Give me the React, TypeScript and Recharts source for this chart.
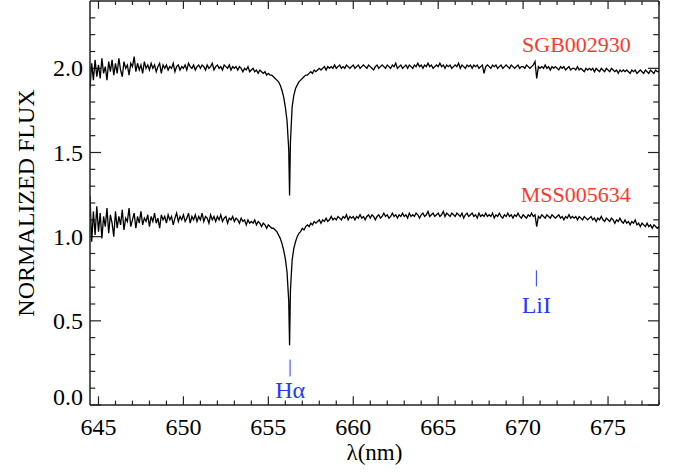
import React from "react";
import { LineChart, Line, XAxis, YAxis, ReferenceLine, ReferenceDot } from "recharts";

// wavelength grid in nm (extra point at the H-alpha core)
const wavelength = [
  644.5, 644.6, 644.7, 644.8, 644.9,
  645.0, 645.1, 645.2, 645.3, 645.4, 645.5, 645.6, 645.7, 645.8, 645.9,
  646.0, 646.1, 646.2, 646.3, 646.4, 646.5, 646.6, 646.7, 646.8, 646.9,
  647.0, 647.1, 647.2, 647.3, 647.4, 647.5, 647.6, 647.7, 647.8, 647.9,
  648.0, 648.1, 648.2, 648.3, 648.4, 648.5, 648.6, 648.7, 648.8, 648.9,
  649.0, 649.1, 649.2, 649.3, 649.4, 649.5, 649.6, 649.7, 649.8, 649.9,
  650.0, 650.1, 650.2, 650.3, 650.4, 650.5, 650.6, 650.7, 650.8, 650.9,
  651.0, 651.1, 651.2, 651.3, 651.4, 651.5, 651.6, 651.7, 651.8, 651.9,
  652.0, 652.1, 652.2, 652.3, 652.4, 652.5, 652.6, 652.7, 652.8, 652.9,
  653.0, 653.1, 653.2, 653.3, 653.4, 653.5, 653.6, 653.7, 653.8, 653.9,
  654.0, 654.1, 654.2, 654.3, 654.4, 654.5, 654.6, 654.7, 654.8, 654.9,
  655.0, 655.1, 655.2, 655.3, 655.4, 655.5, 655.6, 655.7, 655.8, 655.9,
  656.0, 656.1, 656.2, 656.25, 656.3, 656.4, 656.5, 656.6, 656.7, 656.8, 656.9,
  657.0, 657.1, 657.2, 657.3, 657.4, 657.5, 657.6, 657.7, 657.8, 657.9,
  658.0, 658.1, 658.2, 658.3, 658.4, 658.5, 658.6, 658.7, 658.8, 658.9,
  659.0, 659.1, 659.2, 659.3, 659.4, 659.5, 659.6, 659.7, 659.8, 659.9,
  660.0, 660.1, 660.2, 660.3, 660.4, 660.5, 660.6, 660.7, 660.8, 660.9,
  661.0, 661.1, 661.2, 661.3, 661.4, 661.5, 661.6, 661.7, 661.8, 661.9,
  662.0, 662.1, 662.2, 662.3, 662.4, 662.5, 662.6, 662.7, 662.8, 662.9,
  663.0, 663.1, 663.2, 663.3, 663.4, 663.5, 663.6, 663.7, 663.8, 663.9,
  664.0, 664.1, 664.2, 664.3, 664.4, 664.5, 664.6, 664.7, 664.8, 664.9,
  665.0, 665.1, 665.2, 665.3, 665.4, 665.5, 665.6, 665.7, 665.8, 665.9,
  666.0, 666.1, 666.2, 666.3, 666.4, 666.5, 666.6, 666.7, 666.8, 666.9,
  667.0, 667.1, 667.2, 667.3, 667.4, 667.5, 667.6, 667.7, 667.8, 667.9,
  668.0, 668.1, 668.2, 668.3, 668.4, 668.5, 668.6, 668.7, 668.8, 668.9,
  669.0, 669.1, 669.2, 669.3, 669.4, 669.5, 669.6, 669.7, 669.8, 669.9,
  670.0, 670.1, 670.2, 670.3, 670.4, 670.5, 670.6, 670.7, 670.8, 670.9,
  671.0, 671.1, 671.2, 671.3, 671.4, 671.5, 671.6, 671.7, 671.8, 671.9,
  672.0, 672.1, 672.2, 672.3, 672.4, 672.5, 672.6, 672.7, 672.8, 672.9,
  673.0, 673.1, 673.2, 673.3, 673.4, 673.5, 673.6, 673.7, 673.8, 673.9,
  674.0, 674.1, 674.2, 674.3, 674.4, 674.5, 674.6, 674.7, 674.8, 674.9,
  675.0, 675.1, 675.2, 675.3, 675.4, 675.5, 675.6, 675.7, 675.8, 675.9,
  676.0, 676.1, 676.2, 676.3, 676.4, 676.5, 676.6, 676.7, 676.8, 676.9,
  677.0, 677.1, 677.2, 677.3, 677.4, 677.5, 677.6, 677.7, 677.8, 677.9,
  678.0,
];

// SGB002930 (offset by +1)
const fluxSGB = [
  1.88, 2.03, 1.93, 2.05, 1.95,
  2.02, 1.94, 2.06, 1.97, 2.01, 1.93, 2.04, 1.98, 2.05, 1.96,
  2.03, 1.97, 2.06, 1.99, 1.95, 2.04, 2.00, 2.02, 1.96, 2.03,
  2.01, 2.07, 1.98, 2.03, 1.99, 2.02, 1.97, 2.04, 2.00, 2.02,
  1.99, 2.03, 2.00, 2.02, 1.98, 2.01, 2.03, 1.97, 2.02, 2.00,
  2.02, 1.99, 2.01, 2.00, 2.03, 1.98, 2.01, 2.02, 1.99, 2.01,
  2.00, 2.02, 1.99, 2.03, 2.01, 2.00, 2.02, 1.99, 2.01, 2.02,
  2.00, 2.02, 2.01, 1.99, 2.02, 2.00, 2.01, 2.03, 1.99, 2.01,
  2.02, 2.00, 2.01, 1.99, 2.02, 2.01, 2.00, 2.02, 1.99, 2.01,
  2.00, 2.01, 1.99, 2.01, 2.00, 1.98, 2.00, 1.99, 2.01, 1.98,
  1.99, 2.00, 1.98, 1.99, 1.97, 1.99, 1.98, 1.97, 1.98, 1.96,
  1.97, 1.96, 1.96, 1.95, 1.94, 1.93, 1.92, 1.90, 1.87, 1.83,
  1.77, 1.69, 1.52, 1.245, 1.56, 1.77, 1.84, 1.88, 1.90, 1.92, 1.93,
  1.94, 1.95, 1.96, 1.96, 1.97, 1.98, 1.97, 1.99, 1.98, 1.99,
  2.00, 1.99, 2.00, 2.01, 1.99, 2.01, 2.00, 2.01, 2.00, 2.02,
  2.00, 2.01, 2.02, 2.00, 2.01, 2.00, 2.02, 2.01, 2.00, 2.01,
  2.02, 2.00, 2.01, 2.02, 2.00, 2.01, 2.02, 2.01, 2.00, 2.02,
  2.01, 2.00, 1.99, 2.01, 2.02, 2.00, 2.01, 2.02, 2.01, 2.00,
  2.02, 2.01, 2.00, 2.02, 2.01, 2.03, 2.00, 2.01, 2.02, 2.00,
  2.01, 2.02, 2.00, 2.02, 2.01, 2.00, 2.02, 2.01, 2.03, 2.01,
  2.02, 2.00, 2.02, 2.01, 2.03, 2.01, 2.02, 2.00, 2.01, 2.02,
  2.01, 2.03, 2.01, 2.02, 2.00, 2.02, 2.01, 2.02, 2.00, 2.01,
  2.02, 2.01, 2.03, 2.00, 2.02, 2.01, 2.00, 2.02, 2.01, 2.02,
  2.00, 2.02, 2.01, 2.02, 2.00, 2.01, 2.02, 1.97, 2.01, 2.02,
  2.01, 2.00, 2.02, 2.01, 2.02, 2.00, 2.01, 2.02, 2.00, 2.01,
  2.02, 2.01, 2.00, 2.02, 2.01, 2.00, 2.01, 2.02, 2.00, 2.01,
  2.01, 2.00, 2.02, 2.01, 2.00, 2.01, 2.02, 2.04, 1.94, 2.01,
  2.00, 2.01, 2.00, 2.02, 2.00, 2.01, 1.99, 2.01, 2.00, 2.01,
  2.00, 1.99, 2.01, 2.00, 2.01, 1.99, 2.00, 2.01, 1.99, 2.00,
  2.00, 1.99, 2.01, 1.99, 2.00, 1.99, 1.98, 2.00, 1.99, 2.00,
  1.99, 2.00, 1.98, 2.00, 1.99, 1.98, 2.00, 1.99, 1.98, 2.00,
  1.99, 1.98, 2.00, 1.99, 1.98, 1.99, 1.97, 1.99, 1.98, 1.99,
  1.98, 1.99, 1.98, 1.97, 1.99, 1.98, 1.99, 1.97, 1.98, 1.99,
  1.98, 1.97, 1.99, 1.98, 1.97, 1.99, 1.98, 1.97, 1.99, 1.98,
  1.98,
];

// MSS005634
const fluxMSS = [
  1.24, 0.97, 1.15, 1.01, 1.18,
  1.03, 1.14, 0.99, 1.12, 1.06, 1.17, 1.02, 1.13, 1.08, 1.00,
  1.15, 1.05, 1.12, 1.07, 1.16, 1.04, 1.11, 1.09, 1.17, 1.06,
  1.10, 1.14, 1.05, 1.12, 1.08, 1.15, 1.07, 1.11, 1.09, 1.13,
  1.06, 1.12, 1.09, 1.14, 1.08, 1.11, 1.05, 1.13, 1.10, 1.12,
  1.08, 1.13, 1.10, 1.12, 1.07, 1.11, 1.14, 1.09, 1.12, 1.10,
  1.13, 1.09, 1.11, 1.14, 1.08, 1.12, 1.10, 1.13, 1.09, 1.12,
  1.10, 1.14, 1.09, 1.12, 1.11, 1.08, 1.13, 1.10, 1.12, 1.09,
  1.12, 1.10, 1.13, 1.09, 1.11, 1.12, 1.08, 1.11, 1.10, 1.12,
  1.09, 1.11, 1.10, 1.08, 1.11, 1.09, 1.10, 1.07, 1.10, 1.08,
  1.09, 1.08, 1.10, 1.07, 1.09, 1.08, 1.06, 1.08, 1.07, 1.05,
  1.07, 1.06, 1.05, 1.05, 1.04, 1.03, 1.01, 0.99, 0.96, 0.92,
  0.87, 0.79, 0.62, 0.355, 0.68, 0.86, 0.93, 0.97, 1.00, 1.02, 1.03,
  1.05, 1.04, 1.06, 1.07, 1.06, 1.08, 1.07, 1.09, 1.08, 1.09,
  1.10, 1.08, 1.10, 1.09, 1.11, 1.09, 1.10, 1.12, 1.10, 1.11,
  1.10, 1.12, 1.11, 1.10, 1.12, 1.11, 1.13, 1.10, 1.12, 1.11,
  1.12, 1.10, 1.12, 1.11, 1.13, 1.11, 1.12, 1.10, 1.12, 1.13,
  1.11, 1.13, 1.12, 1.10, 1.12, 1.13, 1.11, 1.12, 1.14, 1.12,
  1.13, 1.11, 1.12, 1.14, 1.12, 1.13, 1.11, 1.13, 1.12, 1.14,
  1.12, 1.13, 1.11, 1.14, 1.12, 1.13, 1.12, 1.14, 1.13, 1.11,
  1.13, 1.14, 1.12, 1.13, 1.15, 1.12, 1.13, 1.14, 1.12, 1.13,
  1.14, 1.12, 1.13, 1.15, 1.12, 1.14, 1.13, 1.12, 1.14, 1.13,
  1.12, 1.14, 1.13, 1.12, 1.14, 1.11, 1.13, 1.14, 1.12, 1.13,
  1.14, 1.12, 1.13, 1.11, 1.14, 1.12, 1.13, 1.12, 1.14, 1.12,
  1.13, 1.12, 1.14, 1.11, 1.13, 1.12, 1.14, 1.12, 1.11, 1.13,
  1.12, 1.14, 1.12, 1.13, 1.11, 1.13, 1.12, 1.14, 1.12, 1.11,
  1.13, 1.12, 1.11, 1.13, 1.12, 1.14, 1.12, 1.13, 1.06, 1.12,
  1.11, 1.13, 1.12, 1.11, 1.13, 1.12, 1.11, 1.13, 1.12, 1.11,
  1.12, 1.13, 1.11, 1.12, 1.10, 1.12, 1.11, 1.13, 1.11, 1.12,
  1.11, 1.12, 1.10, 1.12, 1.11, 1.10, 1.12, 1.11, 1.10, 1.11,
  1.12, 1.10, 1.11, 1.09, 1.11, 1.10, 1.12, 1.10, 1.09, 1.11,
  1.10, 1.09, 1.11, 1.10, 1.08, 1.10, 1.09, 1.11, 1.09, 1.08,
  1.10, 1.08, 1.09, 1.07, 1.09, 1.08, 1.10, 1.07, 1.08, 1.06,
  1.08, 1.07, 1.06, 1.08, 1.06, 1.07, 1.05, 1.07, 1.06, 1.05,
  1.06,
];

const xDomain = [644.5, 678];
const yDomain = [0, 2.4];

const xTicks = [
  645, 646, 647, 648, 649, 650, 651, 652, 653, 654, 655, 656, 657, 658, 659, 660, 661,
  662, 663, 664, 665, 666, 667, 668, 669, 670, 671, 672, 673, 674, 675, 676, 677, 678,
];
const xMajor = [645, 650, 655, 660, 665, 670, 675];
const yTicks = [
  0, 0.1, 0.2, 0.3, 0.4, 0.5, 0.6, 0.7, 0.8, 0.9, 1.0, 1.1, 1.2,
  1.3, 1.4, 1.5, 1.6, 1.7, 1.8, 1.9, 2.0, 2.1, 2.2, 2.3,
];
const yMajor = [0, 0.5, 1.0, 1.5, 2.0];

// line markers: [wavelength, bottom of mark, top of mark]
const hAlpha = [656.28, 0.17, 0.27];
const lithium = [670.78, 0.705, 0.8];

// star names: [wavelength, flux] where the name ends
const sgbName = [676.4, 2.14];
const mssName = [676.4, 1.245];

// inward tick lengths, in axis units (x: nm, y: flux)
const X_TICK_MAJOR = 0.052;
const X_TICK_MINOR = 0.026;
const Y_TICK_MAJOR = 0.65;
const Y_TICK_MINOR = 0.31;

const FONT = "Liberation Serif, Times New Roman, serif";
const AXIS = "#222";
const BLUE = "#1f3cff";
const RED = "#fa3a2a";

const isMajor = (list: number[], v: number) => list.some((m) => Math.abs(m - v) < 1e-6);

const BottomLabel = (props: any) => {
  const { x, y, payload } = props;
  if (!isMajor(xMajor, payload.value)) return <g />;
  return (
    <text x={x} y={y + 30} textAnchor="middle" fontFamily={FONT} fontSize={24} fill="#000">
      {payload.value}
    </text>
  );
};

const LeftLabel = (props: any) => {
  const { x, y, payload } = props;
  const v = payload.value;
  if (!isMajor(yMajor, v)) return <g />;
  return (
    <text x={x - 7} y={y + 8 - (v === 0 ? 8 : 0)} textAnchor="end" fontFamily={FONT} fontSize={24} fill="#000">
      {v.toFixed(1)}
    </text>
  );
};

const nameLabel = (text: string) => (props: any) => {
  const { x, y } = props.viewBox;
  return (
    <text x={x} y={y + 8} textAnchor="end" fontFamily={FONT} fontSize={22} fill={RED}>
      {text}
    </text>
  );
};

const lineLabel = (text: string, gap: number) => (props: any) => {
  const { x, y, width, height } = props.viewBox;
  return (
    <text x={x + width / 2} y={y + height + gap} textAnchor="middle" fontFamily={FONT} fontSize={24} fill={BLUE}>
      {text}
    </text>
  );
};

const xTitle = (props: any) => {
  const { x, y, width } = props.viewBox;
  return (
    <text x={x + width / 2} y={y + 55} textAnchor="middle" fontFamily={FONT} fontSize={23} fill="#000">
      λ(nm)
    </text>
  );
};

const yTitle = (props: any) => {
  const { x, y, height } = props.viewBox;
  const cx = x + 26;
  const cy = y + height / 2;
  return (
    <text
      x={cx}
      y={cy}
      transform={`rotate(-90, ${cx}, ${cy})`}
      textAnchor="middle"
      dominantBaseline="central"
      fontFamily={FONT}
      fontSize={24}
      fill="#000"
    >
      NORMALIZED FLUX
    </text>
  );
};

const rows = wavelength.map((w, i) => ({ w, sgb: fluxSGB[i], mss: fluxMSS[i] }));

const seg = (x1: number, y1: number, x2: number, y2: number, key: string, width = 1.2) => (
  <ReferenceLine
    key={key}
    segment={[
      { x: x1, y: y1 },
      { x: x2, y: y2 },
    ]}
    stroke={AXIS}
    strokeWidth={width}
    ifOverflow="visible"
  />
);

export default function App() {
  const [x0, x1] = xDomain;
  const [y0, y1] = yDomain;
  return (
    <div style={{ position: "absolute", left: 0, top: 0, background: "#fff" }}>
      <LineChart width={673} height={473} data={rows} margin={{ top: 1, right: 14, left: 0, bottom: 0 }}>
        <XAxis
          dataKey="w"
          type="number"
          domain={xDomain}
          allowDataOverflow
          ticks={xTicks}
          interval={0}
          tickSize={0}
          tickMargin={0}
          tick={BottomLabel}
          tickLine={false}
          axisLine={{ stroke: AXIS, strokeWidth: 1.5 }}
          height={68}
          label={xTitle}
        />
        <YAxis
          type="number"
          domain={yDomain}
          allowDataOverflow
          ticks={yTicks}
          interval={0}
          tickSize={0}
          tickMargin={0}
          tick={LeftLabel}
          tickLine={false}
          axisLine={{ stroke: AXIS, strokeWidth: 1.5 }}
          width={90}
          label={yTitle}
        />
        {/* top and right frame */}
        {seg(x0, y1, x1, y1, "frame-top", 1.5)}
        {seg(x1, y0, x1, y1, "frame-right", 1.5)}
        {/* inward ticks on all four sides */}
        {xTicks.map((t) => {
          const major = isMajor(xMajor, t);
          return seg(t, y0, t, y0 + (major ? X_TICK_MAJOR : X_TICK_MINOR), `xb-${t}`);
        })}
        {xTicks.map((t) => {
          const major = isMajor(xMajor, t);
          return seg(t, y1, t, y1 - (major ? X_TICK_MAJOR * 0.9 : X_TICK_MINOR * 0.9), `xt-${t}`);
        })}
        {yTicks.map((t) => {
          const major = isMajor(yMajor, t);
          return seg(x0, t, x0 + (major ? Y_TICK_MAJOR : Y_TICK_MINOR), t, `yl-${t}`);
        })}
        {yTicks.map((t) => {
          const major = isMajor(yMajor, t);
          return seg(x1, t, x1 - (major ? Y_TICK_MAJOR : Y_TICK_MINOR * 1.1), t, `yr-${t}`);
        })}
        <Line type="linear" dataKey="sgb" stroke="#000" strokeWidth={1.3} dot={false} isAnimationActive={false} />
        <Line type="linear" dataKey="mss" stroke="#000" strokeWidth={1.3} dot={false} isAnimationActive={false} />
        <ReferenceLine
          segment={[
            { x: hAlpha[0], y: hAlpha[1] },
            { x: hAlpha[0], y: hAlpha[2] },
          ]}
          stroke={BLUE}
          strokeWidth={1}
          label={lineLabel("Hα", 22)}
        />
        <ReferenceLine
          segment={[
            { x: lithium[0], y: lithium[1] },
            { x: lithium[0], y: lithium[2] },
          ]}
          stroke={BLUE}
          strokeWidth={1}
          label={lineLabel("LiI", 27)}
        />
        <ReferenceDot x={sgbName[0]} y={sgbName[1]} r={1} fill="none" stroke="none" label={nameLabel("SGB002930")} />
        <ReferenceDot x={mssName[0]} y={mssName[1]} r={1} fill="none" stroke="none" label={nameLabel("MSS005634")} />
      </LineChart>
    </div>
  );
}
